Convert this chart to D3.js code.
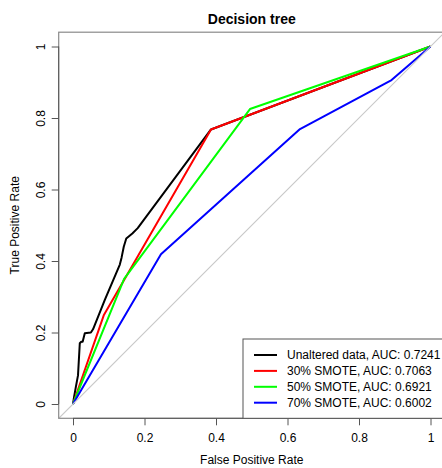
<!DOCTYPE html>
<html>
<head>
<meta charset="utf-8">
<script src="https://cdn.jsdelivr.net/npm/d3@7"></script>
<style>
html,body{margin:0;padding:0;background:#fff;}
svg{display:block;font-family:"Liberation Sans",Arial,Helvetica,sans-serif;}
</style>
</head>
<body>
<svg id="chart" width="442" height="468"></svg>
<script>
// ---- data ----
const title = "Decision tree";
const xLabel = "False Positive Rate";
const yLabel = "True Positive Rate";
const tickValues = [0, 0.2, 0.4, 0.6, 0.8, 1];
const tickLabels = ["0", "0.2", "0.4", "0.6", "0.8", "1"];

const seriesNames = [
  "Unaltered data, AUC: 0.7241",
  "30% SMOTE, AUC: 0.7063",
  "50% SMOTE, AUC: 0.6921",
  "70% SMOTE, AUC: 0.6002"
];
const seriesColors = ["#000000", "#ff0000", "#00ff00", "#0000ff"];

const unalteredFPR = [0, 0.003, 0.008, 0.014, 0.019, 0.023, 0.027, 0.033, 0.050, 0.056, 0.089, 0.131, 0.136, 0.142, 0.149, 0.166, 0.181, 0.386, 1];
const unalteredTPR = [0, 0.020, 0.048, 0.080, 0.170, 0.174, 0.174, 0.198, 0.200, 0.209, 0.291, 0.390, 0.410, 0.440, 0.463, 0.477, 0.492, 0.768, 1];

const smote30FPR = [0, 0.086, 0.386, 1];
const smote30TPR = [0, 0.248, 0.768, 1];

const smote50FPR = [0, 0.143, 0.495, 1];
const smote50TPR = [0, 0.350, 0.825, 1];

const smote70FPR = [0, 0.246, 0.635, 0.891, 1];
const smote70TPR = [0, 0.419, 0.769, 0.906, 1];

const seriesFPR = [unalteredFPR, smote30FPR, smote50FPR, smote70FPR];
const seriesTPR = [unalteredTPR, smote30TPR, smote50TPR, smote70TPR];

// ---- layout ----
const svg = d3.select("#chart");
const pL = 58.7, pR = 444.8, pT = 32.2, pB = 418.3;
const x = d3.scaleLinear().domain([-0.04, 1.04]).range([pL, pR]);
const y = d3.scaleLinear().domain([-0.04, 1.04]).range([pB, pT]);

svg.append("defs").append("clipPath").attr("id", "plotclip")
  .append("rect").attr("x", pL).attr("y", pT)
  .attr("width", pR - pL).attr("height", pB - pT);

const plot = svg.append("g").attr("clip-path", "url(#plotclip)");

const line = d3.line().x(d => x(d[0])).y(d => y(d[1]));

seriesFPR.forEach((fpr, i) => {
  const pts = fpr.map((v, j) => [v, seriesTPR[i][j]]);
  plot.append("path").datum(pts)
    .attr("d", line)
    .attr("fill", "none")
    .attr("stroke", seriesColors[i])
    .attr("stroke-width", 2)
    .attr("stroke-linejoin", "round");
});

// diagonal reference
plot.append("path").datum([[-0.04, -0.04], [1.04, 1.04]])
  .attr("d", line).attr("fill", "none")
  .attr("stroke", "#c8c8c8").attr("stroke-width", 1.2);

// box
svg.append("rect").attr("x", pL).attr("y", pT)
  .attr("width", pR - pL).attr("height", pB - pT)
  .attr("fill", "none").attr("stroke", "#8a8a8a").attr("stroke-width", 1.2);

// axes
const xAxis = d3.axisBottom(x).tickValues(tickValues)
  .tickFormat((d, i) => tickLabels[i]).tickSize(7).tickPadding(8);
const gx = svg.append("g").attr("transform", `translate(0,${pB})`).call(xAxis);
gx.select(".domain").remove();
gx.append("line").attr("x1", x(0)).attr("x2", x(1)).attr("y1", 0).attr("y2", 0)
  .attr("stroke", "#555").attr("stroke-width", 1);
gx.selectAll(".tick line").attr("stroke", "#555");
gx.selectAll(".tick text").attr("font-size", 12).attr("fill", "#000")
  .attr("font-family", "Liberation Sans, Arial, sans-serif");

const yAxis = d3.axisLeft(y).tickValues(tickValues)
  .tickFormat((d, i) => tickLabels[i]).tickSize(7).tickPadding(0);
const gy = svg.append("g").attr("transform", `translate(${pL},0)`).call(yAxis);
gy.select(".domain").remove();
gy.append("line").attr("y1", y(0)).attr("y2", y(1)).attr("x1", 0).attr("x2", 0)
  .attr("stroke", "#555").attr("stroke-width", 1);
gy.selectAll(".tick line").attr("stroke", "#555");
gy.selectAll(".tick text")
  .attr("font-size", 12).attr("fill", "#000")
  .attr("font-family", "Liberation Sans, Arial, sans-serif")
  .attr("x", null)
  .attr("text-anchor", "middle")
  .attr("transform", "translate(-18,0) rotate(-90)")
  .attr("dy", "0.35em");

// titles
svg.append("text").attr("x", (pL + pR) / 2).attr("y", 24)
  .attr("text-anchor", "middle").attr("font-size", 14).attr("font-weight", "bold")
  .text(title);
svg.append("text").attr("x", (pL + pR) / 2).attr("y", 464)
  .attr("text-anchor", "middle").attr("font-size", 12).text(xLabel);
svg.append("text")
  .attr("transform", `translate(19,${(pT + pB) / 2}) rotate(-90)`)
  .attr("text-anchor", "middle").attr("font-size", 12).text(yLabel);

// legend
const lg = svg.append("g");
const lgX = 243, lgY = 339;
lg.append("rect").attr("x", lgX).attr("y", lgY)
  .attr("width", pR - lgX).attr("height", pB - lgY)
  .attr("fill", "#fff").attr("stroke", "#555").attr("stroke-width", 1);
seriesNames.forEach((name, i) => {
  const cy = 355 + i * 15.9;
  lg.append("line").attr("x1", 254).attr("x2", 277).attr("y1", cy).attr("y2", cy)
    .attr("stroke", seriesColors[i]).attr("stroke-width", 2);
  lg.append("text").attr("x", 287).attr("y", cy).attr("dy", "0.35em")
    .attr("font-size", 12).text(name);
});
</script>
</body>
</html>
